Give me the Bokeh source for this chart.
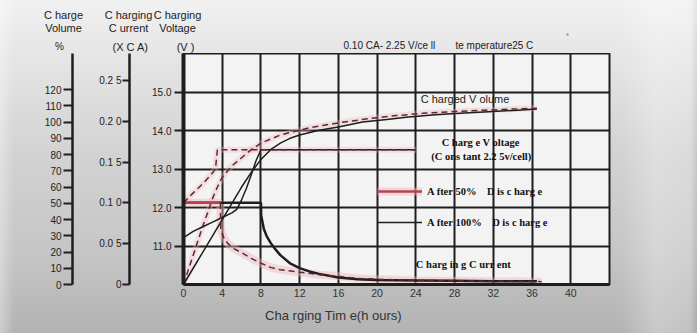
from bokeh.plotting import figure
from bokeh.layouts import column
from bokeh.models import (Range1d, LinearAxis, FixedTicker, Label, Legend, LegendItem)
from bokeh.embed import file_html
from bokeh.resources import INLINE

# ---------------- data ----------------
hour_ticks = [0, 4, 8, 12, 16, 20, 24, 28, 32, 36, 40]
volt_ticks = [11, 12, 13, 14, 15]
volt_labels = ["11.0", "12.0", "13.0", "14.0", "15.0"]
cur_ticks = [0, 0.05, 0.10, 0.15, 0.20, 0.25]
cur_labels = ["0", "0.0 5", "0.1 0", "0.1 5", "0.2 0", "0.2 5"]
pct_ticks = [0, 10, 20, 30, 40, 50, 60, 70, 80, 90, 100, 110, 120]

# charged volume (%)
vol100_t = [0, 1, 2, 3, 4, 5, 6, 7, 8, 9, 10, 11, 12, 14, 16, 18.5, 21, 23, 26, 29, 32, 34.5, 36.5]
vol100_pct = [0, 10, 20, 30, 40, 50, 60, 69, 77, 83, 87, 90, 92, 95, 97, 100, 101.5, 103, 104.5, 105.5, 106.5, 107.3, 108]
vol50_t = [0, 0.5, 1, 1.5, 2, 2.6, 3, 3.5, 4, 5, 6, 7, 8, 10, 13, 16, 19, 22, 25, 28, 31, 34, 36.5]
vol50_pct = [0, 9, 18, 27, 36, 46, 53, 60, 66, 73, 78, 83, 87, 92, 96.5, 99.5, 102, 104, 105.5, 106.5, 107.3, 108, 108.5]

# charge voltage (V)
volt100_t = [0, 1, 2, 3, 4, 5, 5.5, 6, 6.5, 7, 7.5, 8, 24]
volt100_v = [11.22, 11.38, 11.5, 11.62, 11.74, 11.86, 11.95, 12.2, 12.5, 12.85, 13.22, 13.5, 13.5]
volt50_t = [0, 1, 2, 3, 3.3, 3.5, 24]
volt50_v = [12.12, 12.38, 12.62, 12.9, 13.0, 13.5, 13.5]

# charging current (x CA)
cur100_t = [0, 8, 8.02, 8.3, 8.6, 9, 9.5, 10, 11, 12, 13, 14, 16, 18, 20, 24, 28, 32, 36.5]
cur100_ca = [0.1, 0.1, 0.085, 0.068, 0.059, 0.051, 0.043, 0.036, 0.026, 0.020, 0.016, 0.013,
             0.0085, 0.0065, 0.0055, 0.005, 0.0045, 0.004, 0.004]
cur50_t = [0, 3.8, 3.85, 4.2, 4.6, 5.2, 6, 7, 8, 9, 10, 12, 14, 16, 18, 20, 24, 28, 32, 37]
cur50_ca = [0.1, 0.1, 0.068, 0.056, 0.05, 0.044, 0.039, 0.032, 0.026, 0.021, 0.018, 0.015,
            0.012, 0.010, 0.0075, 0.0065, 0.005, 0.0045, 0.004, 0.0035]

# ---------------- style ----------------
SANS = "Liberation Sans"
SERIF = "Liberation Serif"
INK = "#1e1e1e"
DASH_COL = "#5a2c2c"
GLOW = "#f0b4bf"
RED = "#b8404f"
BG_CSS = ("linear-gradient(to right, rgba(255,255,255,0.35) 0%, rgba(255,255,255,0) 2%, "
          "rgba(255,255,255,0) 89%, rgba(255,255,255,0.28) 94%, rgba(255,255,255,0.2) 99%, "
          "rgba(0,0,0,0.05) 100%), "
          "linear-gradient(to bottom, #f1f1f1 0%, #e6e6e6 16%, #d3d3d3 45%, #c6c6c6 75%, #b3b3b3 100%)")

# ---------------- header (texts above the axes) ----------------
head = figure(width=697, height=53, x_range=Range1d(0, 697), y_range=Range1d(53, 0),
              x_axis_type=None, y_axis_type=None, output_backend="svg", toolbar_location=None,
              min_border=0, outline_line_color=None, background_fill_color=None,
              border_fill_color=None, frame_align=False)
head.grid.visible = False

def hlabel(fig, text, x, y, size="11px", font=SANS, align="center", color="#222222"):
    fig.add_layout(Label(x=x, y=y, text=text, text_font=font, text_font_size=size,
                         text_align=align, text_baseline="middle", text_color=color))

hlabel(head, "C harge", 63, 14)
hlabel(head, "Volume", 63, 27)
hlabel(head, "C harging", 128, 14)
hlabel(head, "C harging", 177, 14)
hlabel(head, "C urrent", 128, 27)
hlabel(head, "Voltage", 177, 27)
hlabel(head, "%", 59, 46, size="10px")
hlabel(head, "(X C A)", 130, 46.5)
hlabel(head, "(V )", 185, 46.5)
hlabel(head, "0.10 CA- 2.25 V/ce ll", 343, 45, size="10px", align="left")
hlabel(head, "te mperature25 C", 455, 45, size="10px", align="left")
hlabel(head, "°", 567, 36, size="7px")

# ---------------- main chart ----------------
p = figure(width=697, height=247, x_range=Range1d(0, 44), y_range=Range1d(10, 16),
           output_backend="svg", toolbar_location=None,
           min_border_left=183, min_border_right=88, min_border_top=0, min_border_bottom=16,
           background_fill_color="#f3f3f3", border_fill_color=None,
           outline_line_color=INK, outline_line_width=2, frame_align=False)
p.extra_y_ranges = {"cur": Range1d(0, 0.283), "pct": Range1d(0, 142.2)}

p.xgrid.ticker = FixedTicker(ticks=hour_ticks)
p.ygrid.ticker = FixedTicker(ticks=volt_ticks)
for g in (p.xgrid, p.ygrid):
    g.grid_line_color = INK
    g.grid_line_width = 2
    g.grid_line_alpha = 1

xa = p.xaxis[0]
xa.ticker = FixedTicker(ticks=hour_ticks)
xa.axis_line_width = 3
xa.axis_line_color = INK
xa.major_tick_out = 0
xa.major_tick_in = 0
xa.minor_tick_out = 0
xa.minor_tick_in = 0
xa.major_label_standoff = 4
xa.major_label_text_font = SANS
xa.major_label_text_font_size = "10.5px"
xa.major_label_text_color = "#333333"

def style_left(ax, tick_out, standoff, line_w, pad):
    ax.major_tick_out = tick_out
    ax.major_tick_in = 0
    ax.minor_tick_out = 0
    ax.minor_tick_in = 0
    ax.major_tick_line_width = 2
    ax.major_tick_line_color = INK
    ax.axis_line_width = line_w
    ax.axis_line_color = INK
    ax.major_label_standoff = standoff
    ax.major_label_text_font = SANS
    ax.major_label_text_font_size = "10px"
    ax.major_label_text_color = "#222222"
    if pad:
        ax.axis_label = " "
        ax.axis_label_text_font_size = "1px"
        ax.axis_label_standoff = pad

va = p.yaxis[0]
va.ticker = FixedTicker(ticks=volt_ticks)
va.major_label_overrides = {t: l for t, l in zip(volt_ticks, volt_labels)}
style_left(va, 9, 3, 4, 15)

ca = LinearAxis(y_range_name="cur", ticker=FixedTicker(ticks=cur_ticks))
ca.major_label_overrides = {t: l for t, l in zip(cur_ticks, cur_labels)}
style_left(ca, 7, 1, 2.5, 20)
p.add_layout(ca, "left")

pa = LinearAxis(y_range_name="pct", ticker=FixedTicker(ticks=pct_ticks))
style_left(pa, 9, 2, 2.5, 0)
p.add_layout(pa, "left")

# glows for 50% curves
p.line(vol50_t, vol50_pct, y_range_name="pct", line_color=GLOW, line_width=6, line_alpha=0.35)
p.line(volt50_t, volt50_v, line_color=GLOW, line_width=6, line_alpha=0.35)
g_cur = p.line(cur50_t, cur50_ca, y_range_name="cur", line_color=GLOW, line_width=8, line_alpha=0.45)

# charged volume
p.line(vol100_t, vol100_pct, y_range_name="pct", line_color=INK, line_width=1.5)
p.line(vol50_t, vol50_pct, y_range_name="pct", line_color=DASH_COL, line_width=1.5, line_dash="6 4")

# charge voltage
r_v100 = p.line(volt100_t, volt100_v, line_color=INK, line_width=1.5)
p.line(volt50_t, volt50_v, line_color=DASH_COL, line_width=1.5, line_dash="6 4")

# charging current
p.line(cur100_t, cur100_ca, y_range_name="cur", line_color=INK, line_width=2.5)
r_red = p.line(cur50_t[:2], cur50_ca[:2], y_range_name="cur", line_color=RED, line_width=2.5)
p.line(cur50_t[1:], cur50_ca[1:], y_range_name="cur", line_color=DASH_COL, line_width=1.5, line_dash="6 4")

legend = Legend(items=[
    LegendItem(label="A fter 50%\u00a0\u00a0\u00a0 D is c harg e", renderers=[g_cur, r_red]),
    LegendItem(label="A fter 100%\u00a0\u00a0\u00a0 D is c harg e", renderers=[r_v100]),
], location=(194, 53), glyph_width=45, glyph_height=18, label_height=18, spacing=13,
    padding=0, margin=0, label_standoff=5, background_fill_alpha=0, border_line_alpha=0,
    label_text_font=SERIF, label_text_font_style="bold", label_text_font_size="10.5px",
    label_text_color="#111111")
p.add_layout(legend, "center")

def dlabel(text, x, y, size="10.5px", font=SERIF, align="left", style="bold", color="#111111"):
    p.add_layout(Label(x=x, y=y, text=text, text_font=font, text_font_size=size,
                       text_align=align, text_baseline="middle", text_font_style=style,
                       text_color=color))

dlabel("C harged V olume", 24.5, 14.83, size="11px", font=SANS, style="normal", color="#222222")
dlabel("C harg e V oltage", 30.7, 13.69, align="center")
dlabel("(C ons tant 2.2 5v/cell)", 30.75, 13.32, align="center")
dlabel("C harg in g C urr ent", 24.0, 10.52)

# ---------------- footer (x-axis title) ----------------
foot = figure(width=697, height=33, x_range=Range1d(0, 697), y_range=Range1d(33, 0),
              x_axis_type=None, y_axis_type=None, output_backend="svg", toolbar_location=None,
              min_border=0, outline_line_color=None, background_fill_color=None,
              border_fill_color=None, frame_align=False)
foot.grid.visible = False
hlabel(foot, "Cha rging Tim e(h ours)", 333, 15, size="13px", color="#333333")

layout = column(head, p, foot, spacing=0, styles={"background": BG_CSS})
open("out.html", "w").write(file_html(layout, INLINE))
